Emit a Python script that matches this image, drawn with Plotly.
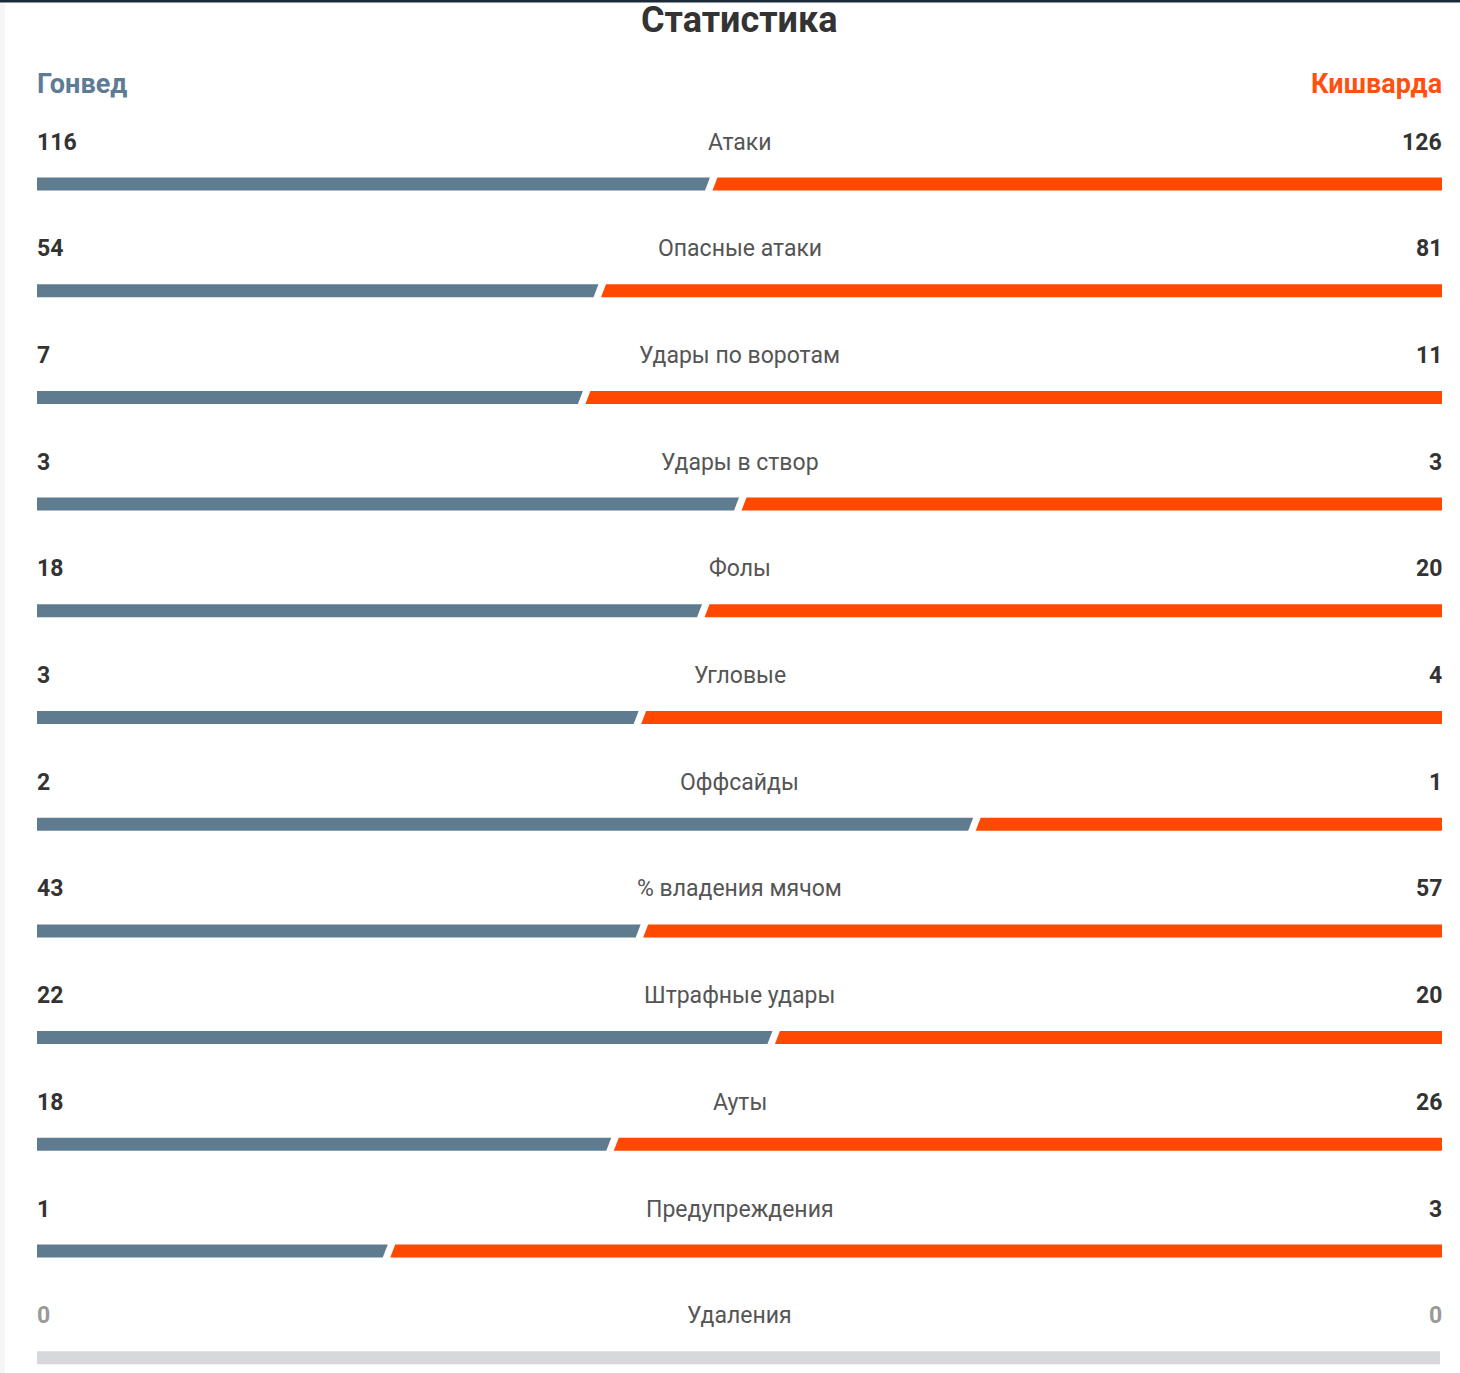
import plotly.graph_objects as go

# ---- data ----
title_text = "Статистика"
home_team = "Гонвед"
away_team = "Кишварда"
stat_labels = ["Атаки", "Опасные атаки", "Удары по воротам", "Удары в створ", "Фолы",
               "Угловые", "Оффсайды", "% владения мячом", "Штрафные удары", "Ауты",
               "Предупреждения", "Удаления"]
home_values = [116, 54, 7, 3, 18, 3, 2, 43, 22, 18, 1, 0]
away_values = [126, 81, 11, 3, 20, 4, 1, 57, 20, 26, 3, 0]

# ---- styling / layout constants ----
W, H = 1460, 1373
X0, X1 = 37, 1442
BAR_PX = X1 - X0
ROW0, ROW_STEP = 184, 106.7
HALF_H = 6.5 / ROW_STEP
BLUE = "#5f7b90"
ORANGE = "#ff4800"
GREY_BAR = "#d6d8db"
FONT = "Roboto, 'Open Sans', sans-serif"

fig = go.Figure()

def px(v):
    return v / BAR_PX

for i, (h, a) in enumerate(zip(home_values, away_values)):
    top, bot = i - HALF_H, i + HALF_H
    tot = h + a
    if tot == 0:
        fig.add_trace(go.Scatter(x=[0, 1 - px(2), 1 - px(2), 0, 0], y=[top, top, bot, bot, top],
                                 fill="toself", fillcolor=GREY_BAR, mode="lines",
                                 line=dict(width=0), hoverinfo="skip", showlegend=False))
        continue
    f = h / tot
    fig.add_trace(go.Scatter(x=[0, f + px(-0.5), f + px(-5.5), 0, 0],
                             y=[top, top, bot, bot, top],
                             fill="toself", fillcolor=BLUE, mode="lines",
                             line=dict(width=0), hoverinfo="skip", showlegend=False))
    fig.add_trace(go.Scatter(x=[f + px(7), 1, 1, f + px(2), f + px(7)],
                             y=[top, top, bot, bot, top],
                             fill="toself", fillcolor=ORANGE, mode="lines",
                             line=dict(width=0), hoverinfo="skip", showlegend=False))

annotations = []
TEXT_OFF = 42 / ROW_STEP
for i, (lab, h, a) in enumerate(zip(stat_labels, home_values, away_values)):
    ty = i - TEXT_OFF
    vcol = "#333333" if (h + a) > 0 else "#9a9a9a"
    annotations.append(dict(x=0, y=ty, xref="x", yref="y", text=str(h), showarrow=False,
                            xanchor="left", yanchor="middle", xshift=-2,
                            font=dict(family=FONT, size=23, color=vcol, weight="bold")))
    annotations.append(dict(x=1, y=ty, xref="x", yref="y", text=str(a), showarrow=False,
                            xanchor="right", yanchor="middle", xshift=2,
                            font=dict(family=FONT, size=23, color=vcol, weight="bold")))
    annotations.append(dict(x=0.5, y=ty, xref="x", yref="y", text=lab, showarrow=False,
                            xanchor="center", yanchor="middle",
                            font=dict(family=FONT, size=23, color="#555555")))

annotations.append(dict(x=739 / W, y=1 - 20 / H, xref="paper", yref="paper", text=title_text,
                        showarrow=False, xanchor="center", yanchor="middle", borderpad=0,
                        font=dict(family=FONT, size=36, color="#333333", weight="bold")))
annotations.append(dict(x=X0 / W, y=1 - 84 / H, xref="paper", yref="paper", text=home_team,
                        showarrow=False, xanchor="left", yanchor="middle", xshift=-2,
                        font=dict(family=FONT, size=27, color="#5e7c93", weight="bold")))
annotations.append(dict(x=X1 / W, y=1 - 84 / H, xref="paper", yref="paper", text=away_team,
                        showarrow=False, xanchor="right", yanchor="middle", xshift=2,
                        font=dict(family=FONT, size=27, color="#ff5010", weight="bold")))

shapes = [
    dict(type="rect", xref="paper", yref="paper", x0=0, x1=1, y0=1 - 2.5 / H, y1=1,
         fillcolor="#1c2a38", line=dict(width=0), layer="above"),
    dict(type="rect", xref="paper", yref="paper", x0=0, x1=5 / W, y0=0, y1=1 - 2.5 / H,
         fillcolor="#f6f6f6", line=dict(width=0), layer="below"),
]

fig.update_layout(
    width=W, height=H, margin=dict(l=0, r=0, t=0, b=0),
    paper_bgcolor="white", plot_bgcolor="white",
    xaxis=dict(domain=[X0 / W, X1 / W], range=[0, 1], visible=False, fixedrange=True),
    yaxis=dict(domain=[0, 1], range=[(H - ROW0) / ROW_STEP, -ROW0 / ROW_STEP],
               visible=False, fixedrange=True),
    annotations=annotations, shapes=shapes, showlegend=False,
)

fig.write_html("out.html", config={"displayModeBar": False},
               post_script="document.body.style.margin='0';document.body.style.overflow='hidden';")
